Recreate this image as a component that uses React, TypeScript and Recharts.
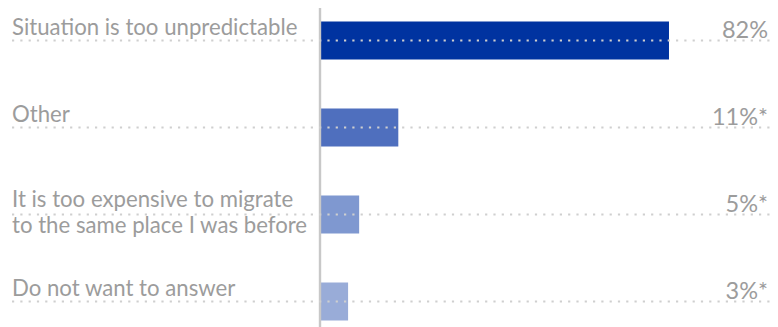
import React from 'react'
import {BarChart, Bar, XAxis, YAxis, Cell, LabelList} from 'recharts'

// reasons given, top to bottom
const categories = [
  'Situation is too unpredictable',
  'Other',
  'It is too expensive to migrate\nto the same place I was before',
  'Do not want to answer',
]
// bar lengths as drawn in the picture (percent scale)
const shares = [82, 18.4, 9.2, 6.6]
// printed labels at the right
const shareLabels = ['82%', '11%*', '5%*', '3%*']
const barColors = ['#0033a0', '#4f6fbe', '#7f98d0', '#99acd8']

const data = categories.map((name, i) => ({name, share: shares[i], label: shareLabels[i]}))

const W = 778
const H = 327
const FONT = "Lato, 'Open Sans', sans-serif"
const TEXT = '#9c9c9c'

const CategoryTick = (props: any) => {
  const {y, payload} = props
  const lines: string[] = String(payload.value).split('\n')
  const first = lines.length > 1 ? y - 7.5 : y - 5.5
  return (
    <text x={12} y={first} fill={TEXT} fontSize={22.2} fontFamily={FONT} textAnchor="start">
      {lines.map((l, i) => (
        <tspan key={i} x={12} dy={i === 0 ? 0 : 26.5}>{l}</tspan>
      ))}
    </text>
  )
}

const RowGuide = (props: any) => {
  const {y, height, value} = props
  const cy = y + height / 2
  return (
    <g>
      <line x1={12} x2={W - 5} y1={cy} y2={cy} stroke="#cfcfcf" strokeWidth={2.2} strokeDasharray="2.2 6.1" />
      <text x={W - 10} y={cy - 3} fill={TEXT} fontSize={23.5} fontFamily={FONT} textAnchor="end">{value}</text>
    </g>
  )
}

export default function App() {
  return (
    <div style={{width: W, height: H}}>
      <style>{`body{margin:0}`}</style>
      <BarChart
        width={W}
        height={H}
        data={data}
        layout="vertical"
        margin={{top: 8, right: 32.4, bottom: 0, left: 0}}
      >
        <XAxis type="number" domain={[0, 100]} hide />
        <YAxis
          type="category"
          dataKey="name"
          width={320}
          axisLine={{stroke: '#c8c8c8', strokeWidth: 2.4}}
          tickLine={false}
          tick={<CategoryTick />}
          padding={{top: -11.5, bottom: -17.5}}
        />
        <Bar dataKey="share" barSize={38} isAnimationActive={false}>
          {data.map((d, i) => (
            <Cell key={d.name} fill={barColors[i]} />
          ))}
          <LabelList dataKey="label" content={<RowGuide />} />
        </Bar>
      </BarChart>
    </div>
  )
}
